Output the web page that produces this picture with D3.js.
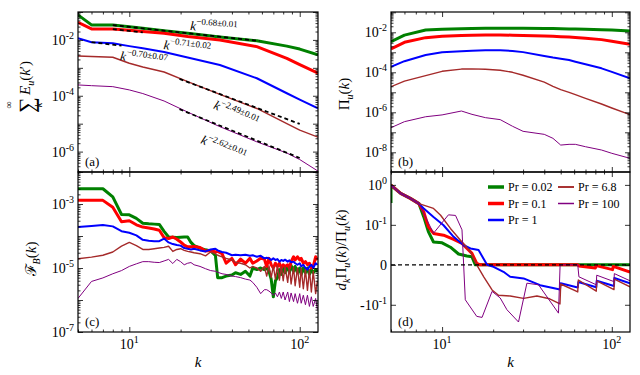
<!DOCTYPE html>
<html>
<head>
<meta charset="utf-8">
<script src="https://cdn.jsdelivr.net/npm/d3@7"></script>
<style>
  body { margin: 0; background: #fff; }
  text { font-family: "Liberation Serif", "Times New Roman", serif; fill: #000; }
</style>
</head>
<body>
<svg id="chart" width="640" height="375" font-family="Liberation Serif, serif"></svg>
<script>
// ---------------- data ----------------
const prLabels = ["0.02", "0.1", "1", "6.8", "100"];

// (a) cumulative energy spectrum, sum from k to infinity of E_u(k')
const kA = [5, 6, 8, 10, 12, 16, 22, 34, 56, 84, 100, 128];
const cumE002 = [0.079, 0.0345, 0.0345, 0.0297, 0.026, 0.0215, 0.0175, 0.0128, 0.0093, 0.0060, 0.0047, 0.0029];
const cumE01 = [0.043, 0.0248, 0.0248, 0.022, 0.020, 0.0172, 0.0132, 0.0100, 0.00575, 0.0022, 0.0013, 0.00064];
const cumE1 = [0.0115, 0.0083, 0.0076, 0.0060, 0.0050, 0.0037, 0.00235, 0.00127, 4.24e-4, 1.23e-4, 7.3e-5, 3.56e-5];
const cumE68 = [2.67e-3, 2.55e-3, 2.4e-3, 1.46e-3, 1.07e-3, 7.1e-4, 3.2e-4, 1.12e-4, 3.5e-5, 1.0e-5, 5.9e-6, 3.3e-6];
const cumE100 = [2.44e-4, 2.3e-4, 2.12e-4, 1.62e-4, 1.2e-4, 6.5e-5, 2.6e-5, 7.8e-6, 2.24e-6, 8.9e-7, 5.2e-7, 2.0e-7];

// power-law fits (end points of the dashed segments) and their exponents
const fitK002 = [8, 58], fitE002 = [0.034, 0.0092];
const fitK01 = [8, 12], fitE01 = [0.0245, 0.0185];
const fitK1 = [6, 9], fitE1 = [0.0083, 0.0062];
const fitK68 = [19.7, 100], fitE68 = [4.0e-4, 9.8e-6];
const fitK100 = [19.7, 100], fitE100 = [3.3e-5, 5.9e-7];
const fitExponents = ["\u22120.68\u00b10.01", "\u22120.71\u00b10.02", "\u22120.70\u00b10.07", "\u22122.49\u00b10.01", "\u22122.62\u00b10.01"];

// (b) kinetic energy flux Pi_u(k)
const kB = [5, 6, 8, 10, 13, 15, 18, 22, 26, 30, 40, 45, 50, 56, 61, 70, 87, 100, 128];
const flux002 = [3.4e-3, 7.2e-3, 1.3e-2, 1.41e-2, 1.51e-2, 1.55e-2, 1.58e-2, 1.58e-2, 1.58e-2, 1.58e-2, 1.55e-2, 1.53e-2, 1.51e-2, 1.46e-2, 1.45e-2, 1.41e-2, 1.35e-2, 1.29e-2, 1.15e-2];
const flux01 = [1.46e-3, 3.16e-3, 5.4e-3, 6.3e-3, 6.9e-3, 7.1e-3, 7.3e-3, 7.3e-3, 7.2e-3, 6.9e-3, 6.5e-3, 6.3e-3, 6.0e-3, 5.75e-3, 5.5e-3, 5.0e-3, 4.3e-3, 3.6e-3, 2.5e-3];
const flux1 = [1.9e-4, 3.6e-4, 7.3e-4, 1.0e-3, 1.12e-3, 1.2e-3, 1.26e-3, 1.26e-3, 1.17e-3, 1.02e-3, 6.6e-4, 5.5e-4, 4.8e-4, 4.1e-4, 3.4e-4, 2.5e-4, 1.58e-4, 1.05e-4, 5.0e-5];
const flux68 = [1.9e-5, 3.6e-5, 6.8e-5, 1.12e-4, 1.45e-4, 1.48e-4, 1.41e-4, 1.26e-4, 1.0e-4, 7.1e-5, 3.2e-5, 2.0e-5, 1.35e-5, 1.0e-5, 7.6e-6, 5.0e-6, 2.6e-6, 1.64e-6, 7.6e-7];
const flux100 = [1.7e-7, 3.4e-7, 6.0e-7, 7.4e-7, 1.16e-6, 7.9e-7, 5.4e-7, 4.3e-7, 2.0e-7, 1.12e-7, 7.9e-8, 5.0e-8, 2.3e-8, 2.5e-8, 2.5e-8, 1.9e-8, 1.3e-8, 8.9e-9, 5.0e-9];

// (c) buoyancy feed F_B(k)
const kC = [5, 6, 7, 8, 9, 10, 11, 12, 13, 14, 15, 16, 17, 18, 19, 20, 21, 22, 23, 24,
  26, 28, 30, 32, 33, 35, 37, 40, 42, 45, 48, 51, 53, 56, 59, 62, 64, 66, 68, 70,
  72, 74, 76, 78, 80, 82, 85, 87, 89, 92, 94, 97, 100, 102, 105, 108, 111, 114, 117, 120, 124, 127];
const feed002 = [3.0e-3, 3.0e-3, 3.0e-3, 1.66e-3, 4.7e-4, 4.6e-4, 3.55e-4, 2.5e-4, 2.4e-4, 2.35e-4,
  2.3e-4, 1.4e-4, 9.3e-5, 9.1e-5, 8.9e-5, 9.1e-5, 9.3e-5, 9.3e-5, 6.3e-5, 5.0e-5,
  4.2e-5, 3.7e-5, 3.4e-5, 2.5e-5, 5.0e-6, 5.0e-6, 5.6e-6, 6.0e-6, 7.1e-6, 6.3e-6,
  7.9e-6, 5.6e-6, 1.0e-5, 8.9e-6, 1.0e-5, 8.9e-6, 1.0e-5, 7.9e-6, 4.5e-6, 1.26e-6,
  4.0e-6, 5.0e-6, 8.9e-6, 6.3e-6, 1.12e-5, 7.1e-6, 1.2e-5, 7.1e-6, 1.2e-5, 7.9e-6,
  1.12e-5, 7.1e-6, 1.0e-5, 6.3e-6, 1.0e-5, 7.1e-6, 1.0e-5, 6.3e-6, 8.9e-6, 7.1e-6, 8.9e-6, 7.6e-6];
const feed01 = [1.3e-3, 1.3e-3, 1.3e-3, 7.9e-4, 2.8e-4, 3.0e-4, 2.24e-4, 1.9e-4, 1.78e-4, 1.66e-4,
  1.51e-4, 8.9e-5, 8.3e-5, 9.3e-5, 7.9e-5, 6.5e-5, 5.2e-5, 4.6e-5, 4.6e-5, 4.7e-5,
  4.4e-5, 3.4e-5, 3.55e-5, 3.16e-5, 3.3e-5, 2.8e-5, 1.41e-5, 2.0e-5, 1.26e-5, 1.9e-5,
  1.41e-5, 2.0e-5, 1.41e-5, 1.66e-5, 2.0e-5, 1.9e-5, 1.12e-5, 2.0e-5, 1.26e-5, 1.0e-5,
  1.41e-5, 1.12e-5, 1.41e-5, 1.0e-5, 1.26e-5, 1.12e-5, 1.26e-5, 1.0e-5, 1.58e-5, 2.24e-5,
  1.78e-5, 2.24e-5, 1.78e-5, 2.0e-5, 1.41e-5, 1.58e-5, 1.26e-5, 1.41e-5, 1.0e-5, 1.12e-5, 2.24e-5, 1.78e-5];
const feed1 = [1.9e-4, 2.04e-4, 2.19e-4, 2.0e-4, 1.41e-4, 1.26e-4, 1.05e-4, 7.6e-5, 7.1e-5, 6.9e-5,
  6.9e-5, 8.3e-5, 6.3e-5, 5.6e-5, 5.2e-5, 5.0e-5, 4.2e-5, 4.0e-5, 3.8e-5, 4.0e-5,
  3.55e-5, 3.3e-5, 3.8e-5, 4.0e-5, 3.55e-5, 3.16e-5, 3.0e-5, 2.5e-5, 2.6e-5, 2.5e-5,
  2.6e-5, 2.4e-5, 2.5e-5, 2.24e-5, 2.4e-5, 2.0e-5, 2.1e-5, 2.0e-5, 1.78e-5, 2.0e-5,
  1.78e-5, 1.9e-5, 1.58e-5, 1.78e-5, 1.66e-5, 1.82e-5, 1.58e-5, 1.74e-5, 1.51e-5, 1.58e-5,
  1.41e-5, 1.26e-5, 1.41e-5, 1.12e-5, 1.26e-5, 1.0e-5, 8.9e-6, 1.12e-5, 1.26e-5, 1.0e-5, 1.41e-5, 1.26e-5];
const feed68 = [1.95e-5, 2.19e-5, 2.5e-5, 3.16e-5, 4.8e-5, 6.3e-5, 5.0e-5, 3.8e-5, 3.8e-5, 4.0e-5,
  4.2e-5, 4.4e-5, 4.8e-5, 3.3e-5, 3.8e-5, 4.0e-5, 3.55e-5, 3.3e-5, 3.16e-5, 3.0e-5,
  2.8e-5, 2.4e-5, 3.16e-5, 2.8e-5, 2.5e-5, 2.24e-5, 2.0e-5, 1.78e-5, 1.51e-5, 1.41e-5,
  1.26e-5, 1.0e-5, 1.12e-5, 1.0e-5, 7.9e-6, 1.12e-5, 5.6e-6, 1.17e-5, 5.0e-6, 1.17e-5,
  4.5e-6, 1.2e-5, 4.2e-6, 1.12e-5, 4.0e-6, 1.12e-5, 3.55e-6, 1.12e-5, 3.16e-6, 1.07e-5,
  2.8e-6, 1.0e-5, 2.5e-6, 1.0e-5, 2.24e-6, 8.9e-6, 2.0e-6, 8.9e-6, 1.78e-6, 7.9e-6, 1.58e-6, 4.0e-6];
const feed100 = [1.12e-6, 3.8e-6, 4.9e-6, 6.6e-6, 8.3e-6, 1.12e-5, 1.35e-5, 1.58e-5, 1.58e-5, 1.51e-5,
  1.48e-5, 1.66e-5, 1.86e-5, 1.38e-5, 1.86e-5, 1.58e-5, 1.26e-5, 1.41e-5, 1.48e-5, 1.26e-5,
  1.12e-5, 9.5e-6, 8.3e-6, 7.9e-6, 7.4e-6, 6.6e-6, 6.3e-6, 5.6e-6, 5.4e-6, 5.0e-6,
  4.5e-6, 4.2e-6, 3.55e-6, 2.5e-6, 1.58e-6, 2.1e-6, 2.1e-6, 1.9e-6, 1.66e-6, 1.41e-6,
  1.66e-6, 1.26e-6, 1.78e-6, 1.12e-6, 1.78e-6, 1.0e-6, 1.78e-6, 8.9e-7, 1.66e-6, 8.9e-7,
  1.58e-6, 7.9e-7, 1.58e-6, 7.9e-7, 1.41e-6, 7.1e-7, 1.41e-6, 6.3e-7, 1.26e-6, 6.3e-7, 1.12e-6, 5.0e-7];

// (d) d_k Pi_u(k) / Pi_u(k)
const kD002 = [5, 5, 5.7, 6.5, 7.3, 7.8, 8.3, 8.9, 10, 11.2, 12.5, 14, 15, 15.7, 128];
const dFlux002 = [0.35, 0.98, 0.61, 0.46, 0.34, 0.158, 0.083, 0.057, 0.055, 0.044, 0.027, 0.022, 0.02, 0, 0];
const kD01 = [5, 5.7, 6.5, 7.3, 7.8, 8.3, 8.9, 10.2, 11.7, 13.1, 15, 16, 16.8, 63, 64, 80, 81, 101, 102, 128];
const dFlux01 = [0.98, 0.61, 0.46, 0.34, 0.21, 0.095, 0.0785, 0.074, 0.0635, 0.0535, 0.0285, 0.0035, 0, 0, -0.003, -0.008, -0.002, -0.012, -0.004, -0.018];
const kD1 = [5, 5.7, 6.5, 7.3, 7.8, 8.9, 10.2, 11.7, 13.4, 14.7, 16.4, 18.4, 20.1, 23, 25.2, 30.2, 37.8, 49.5, 50, 63, 63.5, 81, 81.5, 103, 103.5, 128];
const dFlux1 = [0.98, 0.61, 0.46, 0.34, 0.257, 0.158, 0.099, 0.07, 0.049, 0.041, 0.037, 0, -0.005, -0.0175, -0.03, -0.034, -0.051, -0.062, -0.046, -0.057, -0.043, -0.056, -0.04, -0.053, -0.033, -0.046];
const kD68 = [5, 5.7, 6.5, 7.3, 8.9, 9.8, 11.2, 12.8, 14.7, 16, 17.6, 19.7, 21.5, 25.2, 30.2, 36.2, 43, 49.5, 50, 63, 63.5, 81, 81.5, 103, 103.5, 128];
const dFlux68 = [0.98, 0.61, 0.46, 0.34, 0.257, 0.174, 0.091, 0.062, 0.0325, 0, -0.03, -0.063, -0.076, -0.078, -0.084, -0.078, -0.085, -0.098, -0.048, -0.068, -0.038, -0.066, -0.04, -0.062, -0.036, -0.055];
const kD100 = [5, 5.7, 6.5, 7.3, 8.9, 10.9, 12, 13.1, 13.7, 16, 17.2, 19.7, 22, 24.1, 28.2, 31.6, 37, 48.5, 49.6, 63, 64, 81, 81.5, 103, 103.5, 128];
const dFlux100 = [0.98, 0.61, 0.46, 0.34, 0.079, 0.178, 0.172, 0.0875, -0.0875, -0.195, -0.207, -0.0665, -0.083, -0.133, -0.27, -0.046, -0.05, -0.162, 0, 0, -0.03, -0.05, -0.026, -0.042, -0.022, -0.04];

// ---------------- layout / style ----------------
const svg = d3.select("#chart");
const colors = ["#008000", "#ff0000", "#0000ff", "#a52a2a", "#800080"];
const widths = [3, 3, 2, 1.4, 1];
const kDomain = [5, 128];

const boxA = {left: 78, top: 12, width: 240, height: 160};
const boxB = {left: 391, top: 12, width: 239, height: 160};
const boxC = {left: 78, top: 172, width: 240, height: 160};
const boxD = {left: 391, top: 172, width: 239, height: 160};

const makeX = box => d3.scaleLog().domain(kDomain).range([box.left, box.left + box.width]);
const xA = makeX(boxA), xB = makeX(boxB), xC = makeX(boxC), xD = makeX(boxD);

const yA = d3.scaleLog().domain([1.86e-7, 0.1]).range([boxA.top + boxA.height, boxA.top]);
const yB = d3.scaleLog().domain([1.035e-9, 0.1035]).range([boxB.top + boxB.height, boxB.top]);
const yC = d3.scaleLog().domain([1e-7, 1e-2]).range([boxC.top + boxC.height, boxC.top]);

// symmetric log (linear between -0.1 and 0.1, one decade per unit outside)
const linThresh = 0.1;
const symT = v => Math.abs(v) <= linThresh ? v / linThresh
  : Math.sign(v) * (1 + Math.log10(Math.abs(v) / linThresh));
const yDlin = d3.scaleLinear().domain([symT(-0.48), symT(2.1)]).range([boxD.top + boxD.height, boxD.top]);
const yD = v => yDlin(symT(v));

// clip paths
const defs = svg.append("defs");
[["clipA", boxA], ["clipB", boxB], ["clipC", boxC], ["clipD", boxD]].forEach(([id, b]) => {
  defs.append("clipPath").attr("id", id).append("rect")
    .attr("x", b.left).attr("y", b.top).attr("width", b.width).attr("height", b.height);
});

function drawSeries(clipId, x, y, ks, vs, i) {
  const line = d3.line().x(d => x(d[0])).y(d => y(d[1]));
  svg.append("path")
    .datum(d3.zip(ks, vs))
    .attr("clip-path", `url(#${clipId})`)
    .attr("d", line)
    .attr("fill", "none")
    .attr("stroke", colors[i])
    .attr("stroke-width", widths[i])
    .attr("stroke-linejoin", "round");
}

function logTicks(lo, hi) {
  const major = [], minor = [];
  for (let e = Math.floor(Math.log10(lo)); e <= Math.ceil(Math.log10(hi)); e++) {
    for (let m = 1; m < 10; m++) {
      const v = m * Math.pow(10, e);
      if (v < lo * 0.999 || v > hi * 1.001) continue;
      (m === 1 ? major : minor).push(v);
    }
  }
  return {major, minor};
}

function drawFrame(box, x, y, yMajor, yMinor) {
  const bottom = box.top + box.height, right = box.left + box.width;
  const g = svg.append("g");
  const put = (axis, tx, ty) => g.append("g")
    .attr("transform", `translate(${tx},${ty})`)
    .call(axis)
    .call(s => {
      s.select(".domain").remove();
      s.selectAll("text").remove();
      s.selectAll("line").attr("stroke-width", 0.8);
    });
  const xt = logTicks(kDomain[0], kDomain[1]);
  [[xt.major, 5], [xt.minor, 2.5]].forEach(([vals, len]) => {
    put(d3.axisBottom(x).tickValues(vals).tickSize(-len), 0, bottom);
    put(d3.axisTop(x).tickValues(vals).tickSize(-len), 0, box.top);
  });
  [[yMajor, 5], [yMinor, 2.5]].forEach(([vals, len]) => {
    put(d3.axisLeft(y).tickValues(vals).tickSize(-len), box.left, 0);
    put(d3.axisRight(y).tickValues(vals).tickSize(-len), right, 0);
  });
  g.append("rect")
    .attr("x", box.left).attr("y", box.top)
    .attr("width", box.width).attr("height", box.height)
    .attr("fill", "none").attr("stroke", "#000").attr("stroke-width", 1.2);
}

function powText(x, y, anchor, pre, exp) {
  const t = svg.append("text").attr("x", x).attr("y", y)
    .attr("text-anchor", anchor).attr("font-size", 14);
  t.append("tspan").text(pre + "10");
  if (exp !== null) t.append("tspan").attr("dy", -6).attr("font-size", 10).text(exp);
  return t;
}

function yLabels(box, y, exps) {
  exps.forEach(e => powText(box.left - 4, y(Math.pow(10, e)) + 5, "end", "", String(e)));
}

function xLabels(x) {
  [[10, "1"], [100, "2"]].forEach(([v, e]) => powText(x(v), 349, "middle", "", e));
  svg.append("text").attr("x", (x.range()[0] + x.range()[1]) / 2).attr("y", 367)
    .attr("text-anchor", "middle").attr("font-size", 15).attr("font-style", "italic").text("k");
}

function panelTag(box, tag) {
  svg.append("text").attr("x", box.left + 7).attr("y", box.top + box.height - 6)
    .attr("font-size", 13).text(`(${tag})`);
}

// ---------------- panel (a) ----------------
[cumE002, cumE01, cumE1, cumE68, cumE100].forEach((vs, i) => drawSeries("clipA", xA, yA, kA, vs, i));
[[fitK002, fitE002], [fitK01, fitE01], [fitK1, fitE1], [fitK68, fitE68], [fitK100, fitE100]].forEach(([ks, vs]) => {
  svg.append("path")
    .datum(d3.zip(ks, vs))
    .attr("d", d3.line().x(d => xA(d[0])).y(d => yA(d[1])))
    .attr("fill", "none").attr("stroke", "#000")
    .attr("stroke-width", 1.8).attr("stroke-dasharray", "4,3");
});
// exponent labels anchored in data coordinates
[[22.7, 0.0226, 4], [15.8, 4.73e-3, 7], [8.8, 1.91e-3, 8], [30.9, 3.56e-5, 24], [26, 2.03e-6, 23]].forEach(([k, v, ang], i) => {
  const t = svg.append("text")
    .attr("transform", `translate(${xA(k)},${yA(v)}) rotate(${ang})`)
    .attr("font-size", 13);
  t.append("tspan").attr("font-style", "italic").text("k");
  t.append("tspan").attr("dy", -6).attr("font-size", 9).text(fitExponents[i]);
});
const ticksA = logTicks(1.86e-7, 0.1);
drawFrame(boxA, xA, yA, ticksA.major, ticksA.minor);
yLabels(boxA, yA, [-2, -4, -6]);
panelTag(boxA, "a");

// y label: sum_k^inf E_u(k')
const ga = svg.append("g").attr("transform", "translate(31,87) rotate(-90)");
ga.append("text").attr("x", -26).attr("y", 3).attr("font-size", 22).text("\u2211");
ga.append("text").attr("x", -18).attr("y", -19).attr("font-size", 10).attr("text-anchor", "middle").text("\u221e");
ga.append("text").attr("x", -18).attr("y", 11).attr("font-size", 10).attr("text-anchor", "middle")
  .attr("font-style", "italic").text("k");
const ea = ga.append("text").attr("x", -8).attr("y", -1).attr("font-size", 15);
ea.append("tspan").attr("font-style", "italic").text("E");
ea.append("tspan").attr("font-style", "italic").attr("font-size", 10).attr("dy", 4).text("u");
ea.append("tspan").attr("dy", -4).text("(");
ea.append("tspan").attr("font-style", "italic").text("k");
ea.append("tspan").text("\u2032)");

// ---------------- panel (b) ----------------
[flux002, flux01, flux1, flux68, flux100].forEach((vs, i) => drawSeries("clipB", xB, yB, kB, vs, i));
const ticksB = logTicks(1.035e-9, 0.1035);
drawFrame(boxB, xB, yB, ticksB.major, ticksB.minor);
yLabels(boxB, yB, [-2, -4, -6, -8]);
panelTag(boxB, "b");
const tb = svg.append("text").attr("transform", "translate(349,94) rotate(-90)")
  .attr("text-anchor", "middle").attr("font-size", 15);
tb.append("tspan").text("\u03a0");
tb.append("tspan").attr("font-style", "italic").attr("font-size", 10).attr("dy", 4).text("u");
tb.append("tspan").attr("dy", -4).text("(");
tb.append("tspan").attr("font-style", "italic").text("k");
tb.append("tspan").text(")");

// ---------------- panel (c) ----------------
[feed002, feed01, feed1, feed68, feed100].forEach((vs, i) => drawSeries("clipC", xC, yC, kC, vs, i));
const ticksC = logTicks(1e-7, 1e-2);
drawFrame(boxC, xC, yC, ticksC.major, ticksC.minor);
yLabels(boxC, yC, [-3, -5, -7]);
xLabels(xC);
panelTag(boxC, "c");
const tc = svg.append("text").attr("transform", "translate(36,259) rotate(-90)")
  .attr("text-anchor", "middle").attr("font-size", 15);
tc.append("tspan").text("\u2131");
tc.append("tspan").attr("font-style", "italic").attr("font-size", 10).attr("dy", 4).text("B");
tc.append("tspan").attr("dy", -4).text("(");
tc.append("tspan").attr("font-style", "italic").text("k");
tc.append("tspan").text(")");

// ---------------- panel (d) ----------------
[[kD002, dFlux002], [kD01, dFlux01], [kD1, dFlux1], [kD68, dFlux68], [kD100, dFlux100]]
  .forEach(([ks, vs], i) => drawSeries("clipD", xD, yD, ks, vs, i));
svg.append("line")
  .attr("x1", boxD.left).attr("x2", boxD.left + boxD.width)
  .attr("y1", yD(0)).attr("y2", yD(0))
  .attr("stroke", "#000").attr("stroke-width", 1.2).attr("stroke-dasharray", "4,3");
drawFrame(boxD, xD, yDlin, [2, 1, 0, -1], []);
powText(boxD.left - 4, yD(1) + 5, "end", "", "0");
powText(boxD.left - 4, yD(0.1) + 5, "end", "", "-1");
svg.append("text").attr("x", boxD.left - 4).attr("y", yD(0) + 5)
  .attr("text-anchor", "end").attr("font-size", 14).text("0");
powText(boxD.left - 4, yD(-0.1) + 5, "end", "-", "-1");
xLabels(xD);
panelTag(boxD, "d");
const td = svg.append("text").attr("transform", "translate(346,250) rotate(-90)")
  .attr("text-anchor", "middle").attr("font-size", 15);
td.append("tspan").attr("font-style", "italic").text("d");
td.append("tspan").attr("font-style", "italic").attr("font-size", 10).attr("dy", 4).text("k");
td.append("tspan").attr("dy", -4).text("\u03a0");
td.append("tspan").attr("font-style", "italic").attr("font-size", 10).attr("dy", 4).text("u");
td.append("tspan").attr("dy", -4).text("(");
td.append("tspan").attr("font-style", "italic").text("k");
td.append("tspan").text(")/\u03a0");
td.append("tspan").attr("font-style", "italic").attr("font-size", 10).attr("dy", 4).text("u");
td.append("tspan").attr("dy", -4).text("(");
td.append("tspan").attr("font-style", "italic").text("k");
td.append("tspan").text(")");

// legend
const legend = svg.append("g");
prLabels.forEach((p, i) => {
  const col = i < 3 ? 0 : 1, row = i < 3 ? i : i - 3;
  const lx = 488 + col * 70, ly = 187 + row * 16.5;
  legend.append("line").attr("x1", lx).attr("x2", lx + 16).attr("y1", ly).attr("y2", ly)
    .attr("stroke", colors[i]).attr("stroke-width", widths[i] + 0.5);
  legend.append("text").attr("x", lx + 20).attr("y", ly + 4).attr("font-size", 12)
    .text(`Pr = ${p}`);
});
</script>
</body>
</html>
